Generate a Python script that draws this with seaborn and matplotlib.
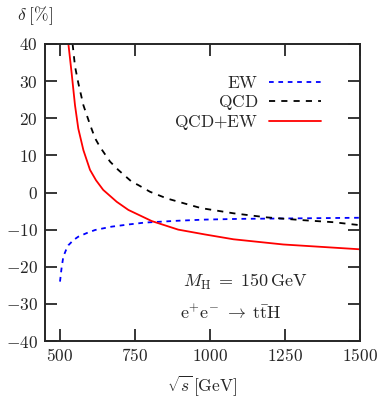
import numpy as np
import pandas as pd
import matplotlib
matplotlib.use("Agg")
import matplotlib.pyplot as plt
import seaborn as sns

# ---- data ----
ew_x = [500, 505, 511, 520, 528, 545, 561, 590, 617, 672, 730, 783, 894, 983, 1100, 1244, 1500]
ew_y = [-24, -20.5, -17.3, -15.5, -14.2, -12.8, -11.9, -10.9, -10.1, -9.2, -8.6, -8.1, -7.6, -7.3, -7.1, -7.0, -6.8]

qcd_x = [542, 550, 561, 578, 600, 617, 633, 667, 694, 739, 761, 800, 856, 917, 970, 1078, 1189, 1300, 1411, 1500]
qcd_y = [40, 34.0, 29.5, 23.5, 18.3, 14.6, 12.3, 8.3, 6.1, 2.9, 2.0, 0.2, -1.6, -3.0, -4.2, -5.6, -6.7, -7.4, -8.0, -8.8]

tot_x = [528, 539, 550, 561, 578, 600, 620, 644, 689, 728, 806, 894, 983, 1078, 1244, 1500]
tot_y = [40, 32, 23.5, 17.2, 11.4, 6.1, 3.3, 0.7, -2.5, -4.7, -7.7, -10, -11.3, -12.6, -14, -15.3]

labels = ["EW", "QCD", "QCD+EW"]
xticks = [500, 750, 1000, 1250, 1500]
yticks = [-40, -30, -20, -10, 0, 10, 20, 30, 40]

sns.set_style("ticks")
plt.rcParams["mathtext.fontset"] = "cm"
plt.rcParams["font.family"] = ["DejaVu Serif"]

W, H = 382, 401
fig = plt.figure(figsize=(W / 100, H / 100), dpi=100)
ax = fig.add_axes([45 / W, 1 - 341 / H, 315 / W, 297 / H])

df = pd.concat([
    pd.DataFrame({"x": ew_x, "y": ew_y, "s": labels[0]}),
    pd.DataFrame({"x": qcd_x, "y": qcd_y, "s": labels[1]}),
    pd.DataFrame({"x": tot_x, "y": tot_y, "s": labels[2]}),
])

styles = {
    labels[0]: dict(color="#0000ff", dashes=(2.6, 2.6)),
    labels[1]: dict(color="#000000", dashes=(3.4, 3.4)),
    labels[2]: dict(color="#ff0000", dashes=None),
}
handles = []
for lab in labels:
    sub = df[df["s"] == lab]
    st = styles[lab]
    sns.lineplot(data=sub, x="x", y="y", ax=ax, color=st["color"], lw=1.3,
                 sort=False, estimator=None, legend=False)
    ln = ax.get_lines()[-1]
    if st["dashes"] is not None:
        ln.set_dashes(st["dashes"])
    ln.set_label(r"$\mathrm{" + lab.replace("+", "{+}") + "}$")
    handles.append(ln)

ax.set_xlim(450, 1500)
ax.set_ylim(-40, 40)
ax.set_xticks(xticks)
ax.set_xticklabels([r"$%d$" % v for v in xticks])
ax.set_yticks(yticks)
ax.set_yticklabels([r"$%d$" % v for v in yticks])
ax.set_xlabel("")
ax.set_ylabel("")
ax.tick_params(direction="in", length=8.5, width=1.3, labelsize=12.5,
               top=True, right=True, pad=5)
for sp in ax.spines.values():
    sp.set_linewidth(1.4)
    sp.set_visible(True)

leg = ax.legend(handles=handles, loc="upper right", frameon=False,
                markerfirst=False, handlelength=3.0, handletextpad=0.6,
                labelspacing=0.05, fontsize=12.5, borderpad=0, borderaxespad=0,
                bbox_to_anchor=(0.875, 0.895))
for t in leg.get_texts():
    t.set_ha("right")

ax.text(0.438, 0.199, r"$M_{\mathrm{H}}\;=\;150\,\mathrm{GeV}$", transform=ax.transAxes,
        fontsize=13, ha="left", va="center")
ax.text(0.429, 0.091, r"$\mathrm{e}^{+}\mathrm{e}^{-}\;\to\;\mathrm{t}\bar{\mathrm{t}}\mathrm{H}$",
        transform=ax.transAxes, fontsize=13, ha="left", va="center")

fig.text(35 / W, 1 - 16 / H, r"$\delta\;[\%]$", fontsize=12.5, ha="center", va="center")
fig.text(202 / W, 1 - 386 / H, r"$\sqrt{s}\,[\mathrm{GeV}]$", fontsize=12.5,
         ha="center", va="center")

fig.savefig("out.png", dpi=100)
